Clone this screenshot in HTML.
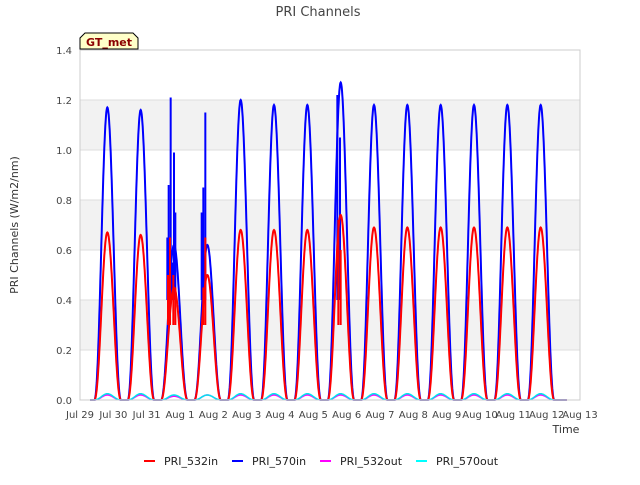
<!DOCTYPE html>
<html><head><meta charset="utf-8"><style>
body{margin:0;background:#fff;font-family:"Liberation Sans","DejaVu Sans",sans-serif}
svg text{font-family:"DejaVu Sans","Liberation Sans",sans-serif}
</style></head><body>
<svg id="c" width="640" height="480" viewBox="0 0 640 480">
<rect x="0" y="0" width="640" height="480" fill="#fff"/>
<text x="318" y="16" text-anchor="middle" font-size="13" fill="#444">PRI Channels</text>
<g id="bands"></g><g id="grid"></g><g id="series"></g><g id="axes"></g>
<text x="18" y="225" text-anchor="middle" font-size="11" fill="#333" transform="rotate(-90 18 225)">PRI Channels (W/m2/nm)</text>
<text x="566" y="433" text-anchor="middle" font-size="11" fill="#333">Time</text>
<g>
<path d="M80,49 L80,38 L85,33 L133,33 L138,38 L138,49 Z" fill="#ffffc8" stroke="#000" stroke-width="1"/>
<text x="109" y="46" text-anchor="middle" font-size="11" font-weight="bold" fill="#8b0000">GT_met</text>
</g>
<g id="legend"></g>
</svg>
<script>
const dayLabels=["Jul 29","Jul 30","Jul 31","Aug 1","Aug 2","Aug 3","Aug 4","Aug 5","Aug 6","Aug 7","Aug 8","Aug 9","Aug 10","Aug 11","Aug 12","Aug 13"];
const yTicks=[0.0,0.2,0.4,0.6,0.8,1.0,1.2,1.4];
const peakDays=[1,2,3,4,5,6,7,8,9,10,11,12,13,14];
const peak532in=[0.67,0.66,0.45,0.50,0.68,0.68,0.68,0.74,0.69,0.69,0.69,0.69,0.69,0.69];
const peak570in=[1.17,1.16,0.62,0.62,1.20,1.18,1.18,1.27,1.18,1.18,1.18,1.18,1.18,1.18];
const peak532out=[0.02,0.02,0.015,0.02,0.02,0.02,0.02,0.02,0.02,0.02,0.02,0.02,0.02,0.02];
const peak570out=[0.025,0.025,0.02,0.02,0.025,0.025,0.025,0.025,0.025,0.025,0.025,0.025,0.025,0.025];
const spikeT570=[2.62,2.66,2.72,2.77,2.82,2.86,3.60,3.65,3.70,3.76,3.80,7.72,7.80];
const spikeV570=[0.65,0.86,1.21,0.55,0.99,0.75,0.33,0.75,0.85,1.15,0.31,1.22,1.05];
const spikeT532=[2.64,2.70,2.76,2.80,2.86,3.62,3.70,3.76,3.80,7.75,7.82];
const spikeV532=[0.50,0.65,0.14,0.50,0.45,0.30,0.45,0.65,0.28,0.72,0.60];
const NS="http://www.w3.org/2000/svg";
const X0=80,X1=580,Y0=400,Y1=50;
const xs=d=>X0+(X1-X0)*d/15;
const ys=v=>Y0-(Y0-Y1)*v/1.4;
function mk(tag,attrs,parent){const e=document.createElementNS(NS,tag);for(const k in attrs)e.setAttribute(k,attrs[k]);document.getElementById(parent).appendChild(e);return e;}
for(let i=0;i<yTicks.length-1;i++){ if(i%2===1){
 const r=mk('rect',{x:X0,y:ys(yTicks[i+1]),width:X1-X0,height:ys(yTicks[i])-ys(yTicks[i+1]),fill:'#f2f2f2'},'bands');
 
 }}
yTicks.forEach(v=>{
 const l=mk('line',{x1:X0,x2:X1,y1:ys(v),y2:ys(v),stroke:'#ddd'},'grid');
 
 
 const t=mk('text',{x:X0-8,y:ys(v)+4,'text-anchor':'end','font-size':10,fill:'#444'},'axes');
 t.textContent=v.toFixed(1);
 
 
});
dayLabels.forEach((s,i)=>{
 const t=mk('text',{x:xs(i),y:418,'text-anchor':'middle','font-size':10,fill:'#444'},'axes');
 t.textContent=s;
 
 
});
const fr=mk('rect',{x:X0,y:Y1,width:X1-X0,height:Y0-Y1,fill:'none',stroke:'#ccc'},'axes');


function shape(f){const a=0.43,b=1.23,c=0.82;if(f<a||f>b)return 0;const u=f<c?(f-a)/(c-a):(b-f)/(b-c);return Math.sin(u*Math.PI/2)**2.2;}
function series(peaks,color,w,name){
 let d='';
 for(let t=0.3;t<=14.6;t+=0.01){let v=0;peakDays.forEach((pd,i)=>{v=Math.max(v,peaks[i]*shape(t-pd+1));});
  d+=(d?'L':'M')+xs(t).toFixed(1)+','+ys(v).toFixed(1);}
 const p=mk('path',{d:d,fill:'none',stroke:color,'stroke-width':w},'series');
 
 
}
function spikes(T,V,color,base,name){T.forEach((t,i)=>{
 const l=mk('line',{x1:xs(t),x2:xs(t),y1:ys(Math.min(base,V[i])),y2:ys(V[i]),stroke:color,'stroke-width':2},'series');
 
 });}
series(peak570in,'#0000ff',2,'series-pri-570in');
spikes(spikeT570,spikeV570,'#0000ff',0.4,'spike-570in');
series(peak532in,'#ff0000',2,'series-pri-532in');
spikes(spikeT532,spikeV532,'#ff0000',0.3,'spike-532in');
series(peak532out,'#ff00ff',1.5,'series-pri-532out');
series(peak570out,'#00e5ee',1.5,'series-pri-570out');
const leg=[["PRI_532in","#ff0000",144],["PRI_570in","#0000ff",232],["PRI_532out","#ff00ff",320],["PRI_570out","#00ffff",416]];
leg.forEach(([n,c,x])=>{
 const l=mk('line',{x1:x,x2:x+11,y1:461,y2:461,stroke:c,'stroke-width':2},'legend');
 
 
 const t=mk('text',{x:x+20,y:465,'font-size':11,fill:'#222'},'legend');
 t.textContent=n;
 
 
});
</script>
</body></html>
